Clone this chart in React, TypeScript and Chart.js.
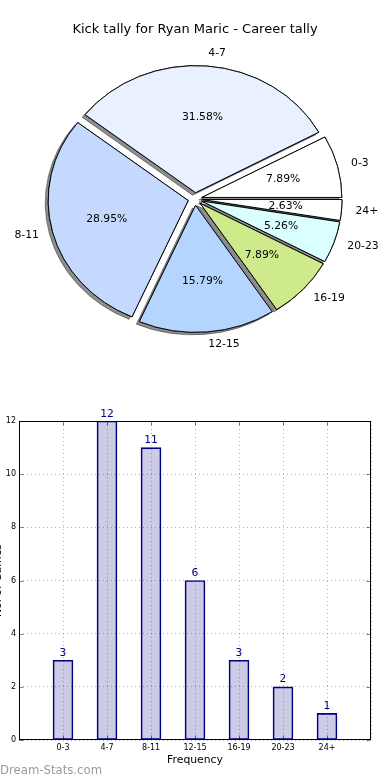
import React, { useEffect, useRef } from "react";
import { Chart, registerables } from "chart.js";

Chart.register(...registerables);

// ---------- data ----------
const chartTitle = "Kick tally for Ryan Maric - Career tally";
const categories = ["0-3", "4-7", "8-11", "12-15", "16-19", "20-23", "24+"];
const games = [3, 12, 11, 6, 3, 2, 1];
const sliceColors = ["#ffffff", "#e9f0ff", "#c5d9ff", "#b4d5ff", "#cfea8b", "#d9ffff", "#ffffff"];
const yTickStep = 2;
const yMax = 12;
const xAxisTitle = "Frequency";
const yAxisTitle = "No. of Games";
const watermark = "Dream-Stats.com";

// ---------- style constants ----------
const FONT = '"DejaVu Sans", "Noto Sans", sans-serif';
const PIE_R = 140;
const PIE_SY = 127 / 140; // matplotlib pie squashed by the axes aspect
const EXPLODE = 7;
const LABEL_SIZE = 10.8;

// pie: drawn clockwise in Chart.js, matplotlib goes counter-clockwise
const pieLabels = [...categories].reverse();
const pieValues = [...games].reverse();
const pieColors = [...sliceColors].reverse();

const drawArcs = (ctx: CanvasRenderingContext2D, arcs: any[]) => {
  arcs.forEach((arc: any) => {
    const mid = (arc.startAngle + arc.endAngle) / 2;
    ctx.save();
    ctx.translate(Math.cos(mid) * EXPLODE, Math.sin(mid) * EXPLODE);
    arc.draw(ctx);
    ctx.restore();
  });
};

const pieDecor = {
  id: "pieDecor",
  beforeDatasetDraw(chart: any, args: any) {
    const arcs = chart.getDatasetMeta(args.index).data;
    if (!arcs.length) return false;
    const ctx = chart.ctx as CanvasRenderingContext2D;
    const cx = arcs[0].x;
    const cy = arcs[0].y;
    ctx.save();
    ctx.translate(cx, cy);
    ctx.scale(1, PIE_SY);
    ctx.translate(-cx, -cy);
    // pass 1: shadows
    ctx.save();
    ctx.shadowColor = "rgba(50,50,50,0.55)";
    ctx.shadowOffsetX = -3;
    ctx.shadowOffsetY = 2.5;
    ctx.shadowBlur = 0;
    drawArcs(ctx, arcs);
    ctx.restore();
    // pass 2: clean wedges on top
    drawArcs(ctx, arcs);
    ctx.restore();
    return false;
  },
  afterDatasetsDraw(chart: any) {
    const meta = chart.getDatasetMeta(0);
    const arcs = meta.data;
    const values = chart.data.datasets[0].data as number[];
    const labels = chart.data.labels as string[];
    const total = values.reduce((a, b) => a + b, 0);
    const ctx = chart.ctx as CanvasRenderingContext2D;
    ctx.save();
    ctx.font = `${LABEL_SIZE}px ${FONT}`;
    ctx.fillStyle = "#000";
    ctx.textBaseline = "middle";
    arcs.forEach((arc: any, i: number) => {
      const mid = (arc.startAngle + arc.endAngle) / 2;
      const dx = Math.cos(mid);
      const dy = Math.sin(mid);
      const R = arc.outerRadius;
      const lr = EXPLODE + 1.1 * R;
      ctx.textAlign = dx > 0 ? "left" : "right";
      ctx.fillText(labels[i], arc.x + lr * dx, arc.y + lr * dy * PIE_SY);
      const pr = EXPLODE + 0.6 * R;
      ctx.textAlign = "center";
      ctx.fillText(((values[i] / total) * 100).toFixed(2) + "%", arc.x + pr * dx, arc.y + pr * dy * PIE_SY);
    });
    ctx.restore();
  },
};

const barDecor = {
  id: "barDecor",
  afterDatasetsDraw(chart: any) {
    const ctx = chart.ctx as CanvasRenderingContext2D;
    const area = chart.chartArea;
    const xs = chart.scales.x;
    const ys = chart.scales.y;
    const L = Math.round(area.left) + 0.5;
    const T = Math.round(area.top) + 0.5;
    const Rr = Math.round(area.right) - 0.5;
    const B = Math.round(area.bottom) - 0.5;
    ctx.save();
    // inner tick marks
    ctx.strokeStyle = "rgba(0,0,0,0.5)";
    ctx.lineWidth = 1;
    ctx.beginPath();
    xs.ticks.forEach((t: any, i: number) => {
      if (!categories.includes(t.label)) return;
      const x = Math.round(xs.getPixelForTick(i)) + 0.5;
      ctx.moveTo(x, B); ctx.lineTo(x, B - 4);
      ctx.moveTo(x, T); ctx.lineTo(x, T + 4);
    });
    ys.ticks.forEach((t: any) => {
      const y = Math.round(ys.getPixelForValue(t.value)) + 0.5;
      ctx.moveTo(L, y); ctx.lineTo(L + 4, y);
      ctx.moveTo(Rr, y); ctx.lineTo(Rr - 4, y);
    });
    ctx.stroke();
    // axes box
    ctx.strokeStyle = "#000";
    ctx.strokeRect(L, T, Rr - L, B - T);
    // value labels
    const meta = chart.getDatasetMeta(0);
    const vals = chart.data.datasets[0].data as (number | null)[];
    ctx.font = `${LABEL_SIZE}px ${FONT}`;
    ctx.fillStyle = "#000080";
    ctx.textAlign = "center";
    ctx.textBaseline = "alphabetic";
    meta.data.forEach((bar: any, i: number) => {
      const v = vals[i];
      if (v == null) return;
      ctx.fillText(String(v), bar.x, bar.y - 4.5);
    });
    ctx.restore();
  },
};

export default function App() {
  const pieRef = useRef<HTMLCanvasElement>(null);
  const barRef = useRef<HTMLCanvasElement>(null);

  useEffect(() => {
    const pie = new Chart(pieRef.current as HTMLCanvasElement, {
      type: "pie",
      data: {
        labels: pieLabels,
        datasets: [
          {
            data: pieValues,
            backgroundColor: pieColors,
            borderColor: "#000",
            borderWidth: 1,
            offset: 0,
            radius: PIE_R,
            rotation: 90,
          } as any,
        ],
      },
      options: {
        responsive: false,
        animation: false,
        rotation: 90,
        layout: { padding: { top: 0, bottom: 39.6, left: 0, right: 0 } },
        plugins: {
          legend: { display: false },
          tooltip: { enabled: false },
          title: {
            display: true,
            text: chartTitle,
            color: "#000",
            font: { family: FONT, size: 13, weight: "normal", lineHeight: 1.2 },
            padding: { top: 22, bottom: 0 },
          },
        },
      } as any,
      plugins: [pieDecor],
    });

    const bar = new Chart(barRef.current as HTMLCanvasElement, {
      type: "bar",
      data: {
        labels: ["", ...categories, ""],
        datasets: [
          {
            data: [null, ...games, null],
            backgroundColor: "rgba(0,0,128,0.2)",
            borderColor: "#000080",
            borderWidth: 1,
            borderSkipped: false,
            barThickness: 20,
          } as any,
        ],
      },
      options: {
        responsive: false,
        animation: false,
        layout: { padding: { top: 21, right: 19, left: 0, bottom: 0 } },
        plugins: { legend: { display: false }, tooltip: { enabled: false } },
        scales: {
          x: {
            type: "category",
            offset: false,
            grid: { offset: false, color: "rgba(0,0,0,0.3)", lineWidth: 1, drawTicks: false },
            border: { display: false, dash: [1, 3] },
            ticks: { color: "#000", font: { family: FONT, size: 8 }, padding: 3, autoSkip: false, maxRotation: 0 },
            title: {
              display: true,
              text: xAxisTitle,
              color: "#000",
              font: { family: FONT, size: LABEL_SIZE, lineHeight: 1.2 },
              padding: { top: 0, bottom: 13.5 },
            },
            afterFit: (s: any) => { s.height = 40; },
          },
          y: {
            min: 0,
            max: yMax,
            grid: { color: "rgba(0,0,0,0.3)", lineWidth: 1, drawTicks: false },
            border: { display: false, dash: [1, 3] },
            ticks: { stepSize: yTickStep, color: "#000", font: { family: FONT, size: 8 }, padding: 3 },
            title: {
              display: true,
              text: yAxisTitle,
              color: "#000",
              font: { family: FONT, size: LABEL_SIZE, lineHeight: 1.2 },
              padding: { top: 0, bottom: 0 },
            },
            afterFit: (s: any) => { s.width = 27; },
          },
        },
      } as any,
      plugins: [barDecor],
    });

    return () => {
      pie.destroy();
      bar.destroy();
    };
  }, []);

  return (
    <div style={{ position: "absolute", left: 0, top: 0, width: 390, height: 780, background: "#fff", overflow: "hidden" }}>
      <canvas ref={pieRef} width={390} height={400} style={{ position: "absolute", left: 0, top: 0 }} />
      <canvas ref={barRef} width={398} height={380} style={{ position: "absolute", left: -8, top: 400 }} />
      <div
        style={{
          position: "absolute",
          left: 0,
          top: 763,
          fontFamily: FONT,
          fontSize: 11.7,
          lineHeight: "14px",
          color: "#9a9a9a",
          whiteSpace: "nowrap",
        }}
      >
        {watermark}
      </div>
    </div>
  );
}
